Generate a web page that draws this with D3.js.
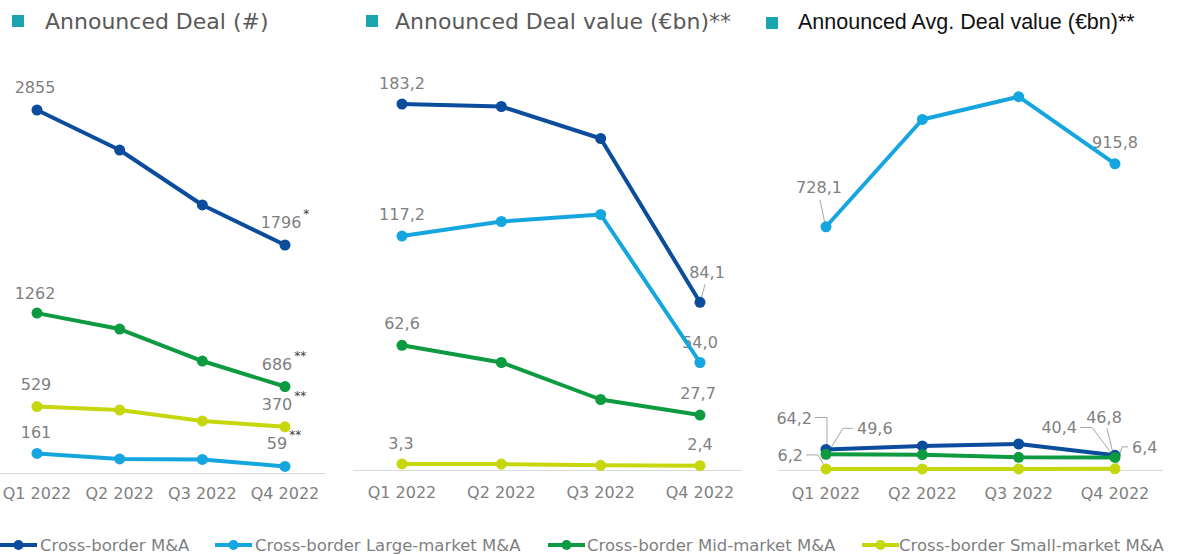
<!DOCTYPE html>
<html>
<head>
<meta charset="utf-8">
<script src="https://cdn.jsdelivr.net/npm/d3@7"></script>
<style>
  html, body { margin: 0; padding: 0; background: #fff; }
  svg { display: block; }
  text { font-family: "DejaVu Sans", Verdana, sans-serif; }
</style>
</head>
<body>
<svg id="chart" width="1178" height="555"></svg>
<script>
// ---------------- DATA ----------------
const quarters = ["Q1 2022", "Q2 2022", "Q3 2022", "Q4 2022"];
const seriesNames = [
  "Cross-border M&A",
  "Cross-border Large-market M&A",
  "Cross-border Mid-market M&A",
  "Cross-border Small-market M&A"
];
const panelTitles = [
  "Announced Deal (#)",
  "Announced Deal value (€bn)**",
  "Announced Avg. Deal value (€bn)**"
];
// rows follow seriesNames order
const dealCount = [
  [2855, 2541, 2110, 1796],
  [161, 118, 114, 59],
  [1262, 1137, 886, 686],
  [529, 502, 416, 370]
];
const dealValue = [
  [183.2, 182.0, 166.0, 84.1],
  [117.2, 124.5, 128.0, 54.0],
  [62.6, 54.0, 35.5, 27.7],
  [3.3, 3.2, 2.6, 2.4]
];
const avgDealValue = [
  [64.2, 74.5, 80.5, 46.8],
  [728.1, 1048.0, 1116.0, 915.8],
  [49.6, 48.6, 40.8, 40.4],
  [6.2, 6.3, 6.3, 6.4]
];
// footnote marks attached to labelled values
const countFootnotes = ["*", "", "**", "**"];

// ---------------- STYLE / LAYOUT ----------------
const colors = ["#0b4d9c", "#15a6e0", "#0d9a40", "#c6d80d"];
const labelColor = "#7f7f7f";
const titleColor = "#595959";
const squareColor = "#19a4b0";

const svg = d3.select("#chart");

const fmtInt = d3.format("d");
const fmtDec = v => d3.format(".1f")(v).replace(".", ",");

const panels = [
  {
    data: dealCount, fmt: fmtInt,
    x: d3.scalePoint().domain(quarters).range([37, 285]),
    y: d3.scaleLinear().domain([0, 3000]).range([474, 91.5]),
    axis: [0, 325, 473.5], tickY: 499,
    title: { sq: 12, sy: 15, tx: 45, ty: 29, color: titleColor, font: "DejaVu Sans", size: 22 },
    labels: [
      { s: 0, i: 0, dx: -2, dy: -23, anchor: "middle", note: "" },
      { s: 0, i: 3, dx: 0, dy: -23, anchor: "middle", note: countFootnotes[0] },
      { s: 2, i: 0, dx: -2, dy: -20, anchor: "middle", note: "" },
      { s: 2, i: 3, dx: -1, dy: -23, anchor: "middle", note: countFootnotes[2] },
      { s: 3, i: 0, dx: -1, dy: -23, anchor: "middle", note: "" },
      { s: 3, i: 3, dx: -1, dy: -23, anchor: "middle", note: countFootnotes[3] },
      { s: 1, i: 0, dx: -1, dy: -21, anchor: "middle", note: "" },
      { s: 1, i: 3, dx: -1, dy: -23, anchor: "middle", note: countFootnotes[3] }
    ]
  },
  {
    data: dealValue, fmt: fmtDec,
    x: d3.scalePoint().domain(quarters).range([402, 700]),
    y: d3.scaleLinear().domain([0, 200]).range([470.5, 70.5]),
    axis: [353, 742, 470.5], tickY: 498,
    title: { sq: 366, sy: 15, tx: 395, ty: 29, color: titleColor, font: "DejaVu Sans", size: 22 },
    labels: [
      { s: 0, i: 0, dx: 0, dy: -21, anchor: "middle" },
      { s: 0, i: 3, dx: 7, dy: -30, anchor: "middle", leader: [[5, -18], [1, -3]] },
      { s: 1, i: 0, dx: 0, dy: -22, anchor: "middle" },
      { s: 1, i: 3, dx: 0, dy: -21, anchor: "middle" },
      { s: 2, i: 0, dx: 0, dy: -22, anchor: "middle" },
      { s: 2, i: 3, dx: -2, dy: -22, anchor: "middle" },
      { s: 3, i: 0, dx: -1, dy: -21, anchor: "middle" },
      { s: 3, i: 3, dx: 0, dy: -22, anchor: "middle" }
    ]
  },
  {
    data: avgDealValue, fmt: fmtDec,
    x: d3.scalePoint().domain(quarters).range([826, 1115]),
    y: d3.scaleLinear().domain([0, 1200]).range([471, 68.5]),
    axis: [778, 1163, 470.5], tickY: 499,
    title: { sq: 766, sy: 17, tx: 798, ty: 29, color: "#111111", font: "Liberation Sans", size: 21.5 },
    labels: [
      { s: 1, i: 0, dx: -7, dy: -40, anchor: "middle", leader: [[-6, -27], [-1, -3]] },
      { s: 1, i: 3, dx: 0, dy: -22, anchor: "middle" },
      { s: 0, i: 0, dx: -14, dy: -31, anchor: "end", leader: [[-11, -32], [1, -32], [1, -3]] },
      { s: 2, i: 0, dx: 31, dy: -26, anchor: "start", leader: [[27, -26], [17, -26], [2, -2]] },
      { s: 3, i: 0, dx: -23, dy: -14, anchor: "end", leader: [[-20, -14], [-8, -14], [-1, -2]] },
      { s: 2, i: 3, dx: -38, dy: -30, anchor: "end", leader: [[-35, -30], [-23, -30], [-2, -2]] },
      { s: 0, i: 3, dx: -11, dy: -38, anchor: "middle", leader: [[-8, -27], [-2, -2]] },
      { s: 3, i: 3, dx: 17, dy: -22, anchor: "start", leader: [[13, -22], [7, -22], [2, -5]] }
    ]
  }
];

panels.forEach((p, pi) => {
  const g = svg.append("g");

  // title
  g.append("rect")
    .attr("x", p.title.sq).attr("y", p.title.sy)
    .attr("width", 12).attr("height", 12)
    .attr("fill", squareColor);
  g.append("text")
    .attr("x", p.title.tx).attr("y", p.title.ty)
    .attr("fill", p.title.color)
    .style("font-family", `"${p.title.font}", sans-serif`)
    .style("font-size", p.title.size + "px")
    .text(panelTitles[pi]);

  // axis line
  g.append("line")
    .attr("x1", p.axis[0]).attr("x2", p.axis[1])
    .attr("y1", p.axis[2]).attr("y2", p.axis[2])
    .attr("stroke", "#d9d9d9").attr("stroke-width", 1);

  // tick labels
  g.selectAll("text.tick").data(quarters).enter().append("text")
    .attr("class", "tick")
    .attr("x", d => p.x(d)).attr("y", p.tickY)
    .attr("text-anchor", "middle")
    .attr("fill", labelColor)
    .style("font-size", "16px")
    .text(d => d);

  // data labels (drawn beneath the lines)
  p.labels.forEach(l => {
    const px = p.x(quarters[l.i]);
    const py = p.y(p.data[l.s][l.i]);
    if (l.leader) {
      g.append("path")
        .attr("d", d3.line()(l.leader.map(q => [px + q[0], py + q[1]])))
        .attr("fill", "none")
        .attr("stroke", "#a6a6a6")
        .attr("stroke-width", 1);
    }
    const t = g.append("text")
      .attr("x", px + l.dx).attr("y", py + l.dy + 6)
      .attr("text-anchor", l.anchor)
      .attr("fill", labelColor)
      .style("font-size", "16px");
    t.append("tspan").text(p.fmt(p.data[l.s][l.i]));
    if (l.note) {
      t.append("tspan")
        .attr("dx", 2).attr("dy", -10)
        .style("font-size", "12px")
        .attr("fill", "#404040")
        .text(l.note);
    }
  });

  // lines and markers
  const line = d3.line()
    .x((d, i) => p.x(quarters[i]))
    .y(d => p.y(d));
  p.data.forEach((row, s) => {
    g.append("path")
      .datum(row)
      .attr("d", line)
      .attr("fill", "none")
      .attr("stroke", colors[s])
      .attr("stroke-width", 4)
      .attr("stroke-linejoin", "round");
    g.selectAll(null).data(row).enter().append("circle")
      .attr("cx", (d, i) => p.x(quarters[i]))
      .attr("cy", d => p.y(d))
      .attr("r", 5.5)
      .attr("fill", colors[s]);
  });
});

// ---------------- LEGEND ----------------
const legendPos = [[0, 40], [215, 255], [548, 587], [862, 899]];
const legendY = 545;
const lg = svg.append("g");
seriesNames.forEach((name, s) => {
  const [lx, tx] = legendPos[s];
  lg.append("line")
    .attr("x1", lx).attr("x2", lx + 37)
    .attr("y1", legendY).attr("y2", legendY)
    .attr("stroke", colors[s]).attr("stroke-width", 4);
  lg.append("circle")
    .attr("cx", lx + 18.5).attr("cy", legendY).attr("r", 5)
    .attr("fill", colors[s]);
  lg.append("text")
    .attr("x", tx).attr("y", legendY + 6)
    .attr("fill", labelColor)
    .style("font-size", "16.5px")
    .text(name);
});
</script>
</body>
</html>
